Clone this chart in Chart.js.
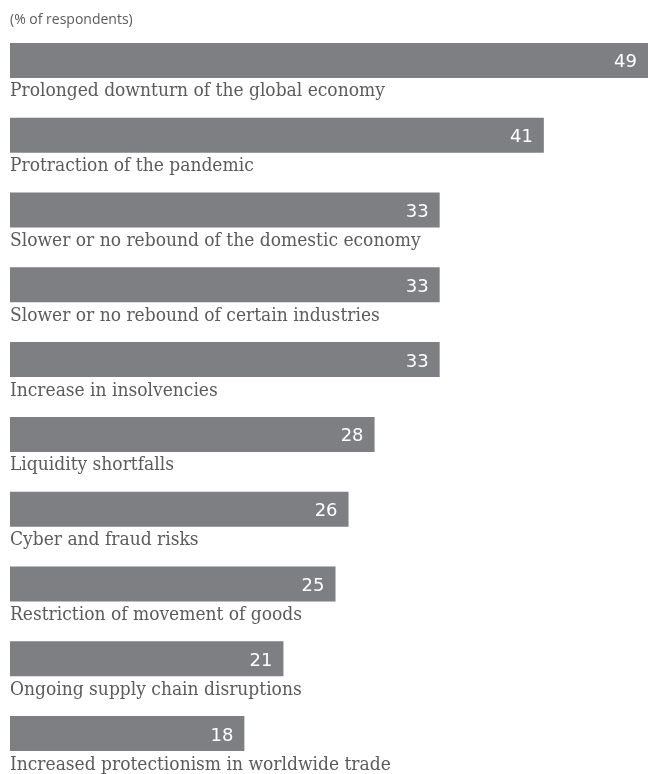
<!DOCTYPE html>
<html>
<head>
<meta charset="utf-8">
<script src="https://cdn.jsdelivr.net/npm/chart.js@4"></script>
<style>
  html, body { margin: 0; padding: 0; background: #fff; }
  #wrap { position: relative; width: 648px; height: 774px; }
</style>
</head>
<body>
<div id="wrap"><canvas id="risk-chart"></canvas></div>
<script>
// % of respondents per risk
const riskLabels = [
  'Prolonged downturn of the global economy',
  'Protraction of the pandemic',
  'Slower or no rebound of the domestic economy',
  'Slower or no rebound of certain industries',
  'Increase in insolvencies',
  'Liquidity shortfalls',
  'Cyber and fraud risks',
  'Restriction of movement of goods',
  'Ongoing supply chain disruptions',
  'Increased protectionism in worldwide trade'
];
const riskValues = [49, 41, 33, 33, 33, 28, 26, 25, 21, 18];
const unitNote = '(% of respondents)';

const BAR_GREY = '#7e7f83';
const TEXT_GREY = '#5b5b5b';

// draws the caption under each bar, the value inside it, and the unit note on top
const barText = {
  id: 'barText',
  afterDatasetsDraw(chart) {
    const ctx = chart.ctx;
    const meta = chart.getDatasetMeta(0);
    ctx.save();
    ctx.fillStyle = TEXT_GREY;
    ctx.font = '14px "Open Sans", sans-serif';
    ctx.textAlign = 'left';
    ctx.textBaseline = 'alphabetic';
    ctx.fillText(unitNote, 10, 24);

    meta.data.forEach((bar, i) => {
      const bottom = bar.y + bar.height / 2;
      ctx.fillStyle = TEXT_GREY;
      ctx.font = '19px "DejaVu Serif Condensed", "DejaVu Serif", serif';
      ctx.textAlign = 'left';
      ctx.fillText(riskLabels[i], 10, bottom + 18.5);

      ctx.fillStyle = '#fff';
      ctx.font = '18px "DejaVu Sans", sans-serif';
      ctx.textAlign = 'right';
      ctx.fillText(String(riskValues[i]), bar.x - 11, bar.y + 7);
    });
    ctx.restore();
  }
};

new Chart(document.getElementById('risk-chart').getContext('2d'), {
  type: 'bar',
  data: {
    labels: riskLabels,
    datasets: [{
      data: riskValues,
      backgroundColor: BAR_GREY,
      borderWidth: 0,
      categoryPercentage: 1,
      barPercentage: 35 / 74.8
    }]
  },
  options: {
    indexAxis: 'y',
    responsive: true,
    maintainAspectRatio: false,
    animation: false,
    layout: { padding: { top: 23, bottom: 3, left: 10, right: 0 } },
    plugins: { legend: { display: false }, tooltip: { enabled: false } },
    scales: {
      x: { display: false, min: 0, max: 49 },
      y: { display: false }
    }
  },
  plugins: [barText]
});
</script>
</body>
</html>
